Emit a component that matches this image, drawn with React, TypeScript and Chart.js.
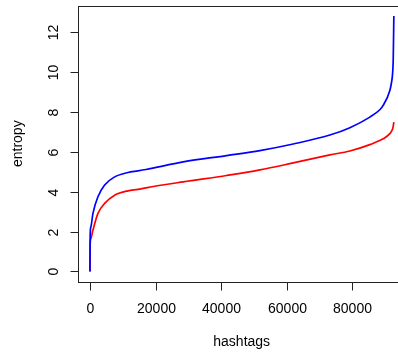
import { useEffect, useRef } from "react";
import { Chart, registerables } from "chart.js";

Chart.register(...registerables);

// ---- data ----
const hashtagIndex = [0, 60, 300, 915, 2440, 4480, 7530, 11590, 14630, 17070, 28440, 41680, 51830, 61990, 73170, 79270, 85370, 88400, 89430, 91460, 91980, 92290, 92500, 92680];
const blueEntropy = [0, 1.8, 2.25, 2.92, 3.75, 4.34, 4.75, 4.97, 5.05, 5.12, 5.5, 5.82, 6.07, 6.4, 6.85, 7.22, 7.75, 8.12, 8.34, 9.09, 9.5, 9.92, 10.7, 12.83];
const redEntropy = [0, 1.35, 1.65, 2.08, 2.92, 3.42, 3.83, 4.05, 4.12, 4.2, 4.5, 4.82, 5.1, 5.45, 5.85, 6.05, 6.37, 6.58, 6.66, 6.92, 7.05, 7.15, 7.3, 7.5];
const xTicks = [0, 20000, 40000, 60000, 80000];
const yTicks = [0, 2, 4, 6, 8, 10, 12];
const xTitle = "hashtags";
const yTitle = "entropy";

const CANVAS_W = 420;
const CANVAS_H = 356;
const FONT = '14px "Liberation Sans", Arial, sans-serif';

function extend(values: number[]) {
  const lo = Math.min(...values);
  const hi = Math.max(...values);
  const pad = (hi - lo) * 0.04;
  return { min: lo - pad, max: hi + pad };
}

const rAxesPlugin = {
  id: "rAxes",
  afterDraw(chart: any) {
    const ctx: CanvasRenderingContext2D = chart.ctx;
    const { left, right, top, bottom } = chart.chartArea;
    const xs = chart.scales.x;
    const ys = chart.scales.y;
    ctx.save();
    ctx.strokeStyle = "#222";
    ctx.fillStyle = "#000";
    ctx.lineWidth = 1;
    const L = Math.round(left) + 0.5;
    const R = Math.round(right) + 0.5;
    const T = Math.round(top) + 0.5;
    const B = Math.round(bottom) + 0.5;
    ctx.strokeRect(L, T, R - L, B - T);
    ctx.font = FONT;
    // x axis ticks
    ctx.textAlign = "center";
    ctx.textBaseline = "alphabetic";
    for (const v of xTicks) {
      const px = Math.round(xs.getPixelForValue(v)) + 0.5;
      ctx.beginPath();
      ctx.moveTo(px, B);
      ctx.lineTo(px, B + 8);
      ctx.stroke();
      ctx.fillText(String(v), px, bottom + 31.6);
    }
    // y axis ticks
    for (const v of yTicks) {
      const py = Math.round(ys.getPixelForValue(v)) + 0.5;
      ctx.beginPath();
      ctx.moveTo(L - 8, py);
      ctx.lineTo(L, py);
      ctx.stroke();
      ctx.save();
      ctx.translate(left - 19.5, py);
      ctx.rotate(-Math.PI / 2);
      ctx.fillText(String(v), 0, 0);
      ctx.restore();
    }
    // titles
    ctx.fillText(xTitle, (left + right) / 2 - 0.2, 346);
    ctx.save();
    ctx.translate(22, (top + bottom) / 2);
    ctx.rotate(-Math.PI / 2);
    ctx.fillText(yTitle, 0, 0);
    ctx.restore();
    ctx.restore();
  },
};

export default function App() {
  const canvasRef = useRef<HTMLCanvasElement | null>(null);

  useEffect(() => {
    const canvas = canvasRef.current;
    if (!canvas) return;
    const xr = extend(hashtagIndex);
    const yr = extend([...blueEntropy, ...redEntropy]);
    const blue = hashtagIndex.map((x, i) => ({ x, y: blueEntropy[i] }));
    const red = hashtagIndex.map((x, i) => ({ x, y: redEntropy[i] }));
    const chart = new Chart(canvas, {
      type: "line",
      data: {
        datasets: [
          {
            label: "blue",
            data: blue,
            borderColor: "#0000ff",
            borderWidth: 1.7,
            pointRadius: 0,
            fill: false,
            cubicInterpolationMode: "monotone",
          },
          {
            label: "red",
            data: red,
            borderColor: "#ff0000",
            borderWidth: 1.7,
            pointRadius: 0,
            fill: false,
            cubicInterpolationMode: "monotone",
          },
        ],
      },
      options: {
        responsive: false,
        animation: false,
        devicePixelRatio: 1,
        layout: {
          padding: { left: 77.8, right: CANVAS_W - 406, top: 5.7, bottom: CANVAS_H - 281.7 },
        },
        plugins: {
          legend: { display: false },
          tooltip: { enabled: false },
        },
        scales: {
          x: { type: "linear", display: false, min: xr.min, max: xr.max },
          y: { type: "linear", display: false, min: yr.min, max: yr.max },
        },
      },
      plugins: [rAxesPlugin],
    } as any);
    return () => chart.destroy();
  }, []);

  return (
    <div
      style={{
        position: "fixed",
        left: 0,
        top: 0,
        width: 398,
        height: 356,
        overflow: "hidden",
        background: "#fff",
      }}
    >
      <canvas
        ref={canvasRef}
        width={CANVAS_W}
        height={CANVAS_H}
        style={{ width: CANVAS_W, height: CANVAS_H, display: "block" }}
      />
    </div>
  );
}
